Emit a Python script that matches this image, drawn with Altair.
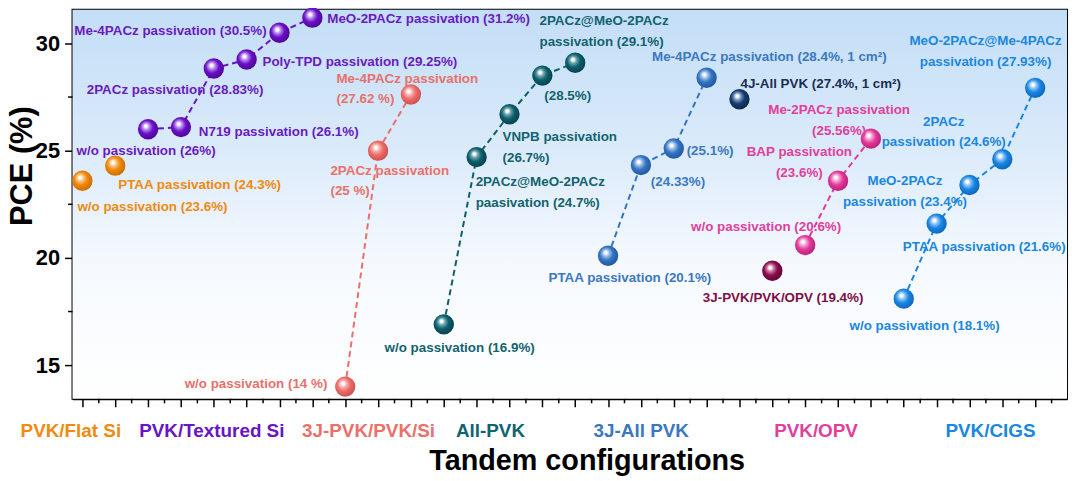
import altair as alt
import pandas as pd

# ---------------- data ----------------
configs = ["PVK/Flat Si", "PVK/Textured Si", "3J-PVK/PVK/Si", "All-PVK",
           "3J-All PVK", "PVK/OPV", "PVK/CIGS"]
config_pos = [0.65, 4.94, 9.71, 13.42, 18.01, 23.33, 28.64]
config_colors = ["#f08a12", "#6a14c4", "#ec706a", "#0f6470", "#3b78bf", "#e0409b", "#1a87e0"]

pos = list(range(1, 31))
pce = [23.6, 24.3,
       26.0, 26.1, 28.83, 29.25, 30.5, 31.2,
       14.0, 25.0, 27.62,
       16.9, 24.7, 26.7, 28.5, 29.1,
       20.1, 24.33, 25.1, 28.4,
       27.4,
       19.4,
       20.6, 23.6, 25.56,
       18.1, 21.6, 23.4, 24.6, 27.93]
series = (["flat"] * 2 + ["textured"] * 6 + ["si3j"] * 3 + ["allpvk"] * 5 +
          ["allpvk3j"] * 4 + ["allpvk4j"] + ["opv3j"] + ["opv"] * 3 + ["cigs"] * 5)
labels = [
    "w/o passivation (23.6%)", "PTAA passivation (24.3%)",
    "w/o passivation (26%)", "N719 passivation (26.1%)", "2PACz passivation (28.83%)",
    "Poly-TPD passivation (29.25%)", "Me-4PACz passivation (30.5%)", "MeO-2PACz passivation (31.2%)",
    "w/o passivation (14 %)", "2PACz passivation\n(25 %)", "Me-4PACz passivation\n(27.62 %)",
    "w/o passivation (16.9%)", "2PACz@MeO-2PACz\npaasivation (24.7%)", "VNPB passivation\n(26.7%)",
    "(28.5%)", "2PACz@MeO-2PACz\npassivation (29.1%)",
    "PTAA passivation (20.1%)", "(24.33%)", "(25.1%)", "Me-4PACz passivation (28.4%, 1 cm\u00b2)",
    "4J-All PVK (27.4%, 1 cm\u00b2)",
    "3J-PVK/PVK/OPV (19.4%)",
    "w/o passivation (20.6%)", "BAP passivation\n(23.6%)", "Me-2PACz passivation\n(25.56%)",
    "w/o passivation (18.1%)", "PTAA passivation (21.6%)", "MeO-2PACz\npassivation (23.4%)",
    "2PACz\npassivation (24.6%)", "MeO-2PACz@Me-4PACz\npassivation (27.93%)",
]

line_series = ["textured", "si3j", "allpvk", "allpvk3j", "opv", "cigs"]

x_major_ticks = list(range(1, 32))
x_minor_ticks = [v + 0.5 for v in range(1, 31)]
y_major_ticks = [15, 20, 25, 30]
y_minor_ticks = [17.5, 22.5, 27.5]

# ---------------- styles ----------------
sphere_cols = {  # base, light, dark, text
    "flat": ("#ee870b", "#f9c27a", "#c86a00", "#ee8a10"),
    "textured": ("#6a10c6", "#b78af0", "#4a0590", "#6a1bbf"),
    "si3j": ("#ec6d69", "#f7b3b0", "#c94c48", "#e8716b"),
    "allpvk": ("#0d5e6b", "#6aa3ad", "#063e48", "#13636f"),
    "allpvk3j": ("#3474c2", "#98bde8", "#1d5499", "#3b78bf"),
    "allpvk4j": ("#163c6e", "#7f9dc4", "#0a2648", "#1b2f52"),
    "opv3j": ("#8a0c4d", "#d07aa5", "#5e0331", "#7e0f45"),
    "opv": ("#e2389a", "#f5a2d0", "#b81c76", "#e0409b"),
    "cigs": ("#1985e4", "#8cc4f5", "#0a63b5", "#1a87e0"),
}

# label placement: (align, dx, dy of first-line centre)
label_place = [
    ("left", -5, 26), ("left", 3, 18),
    ("left", -72, 21), ("left", 18, 4), ("left", -128, 21),
    ("left", 16, 2), ("right", -13, -3), ("left", 15, 0),
    ("right", -18, -4), ("left", -48, 19), ("left", -75, -17),
    ("center", 16, 23), ("left", -1, 24), ("left", -7, 22),
    ("left", 2, 20), ("left", -36, -43),
    ("left", -60, 21), ("left", 10, 16), ("left", 13, 2), ("left", -55, -22),
    ("left", 1, -16),
    ("left", -70, 26),
    ("left", -115, -19), ("center", -39, -30), ("center", -32, -30),
    ("center", 21, 27), ("center", 48, 23), ("center", -65, -5),
    ("center", -59, -39), ("center", -50, -48),
]

FONT = "Liberation Sans"
W, H = 1002, 392

df = pd.DataFrame({"idx": list(range(30)), "pos": pos, "pce": pce,
                   "series": series, "label": labels})
cfg = pd.DataFrame({"config": configs, "cpos": config_pos, "ccol": config_colors})

xscale = alt.Scale(domain=[0.7, 30.97], nice=False, zero=False)
yscale = alt.Scale(domain=[13.43, 31.57], nice=False, zero=False)

x_axis = alt.Axis(
    values=x_major_ticks, labels=False, tickSize=8, tickWidth=1.5, grid=False,
    domainWidth=2, title="Tandem configurations", titleFontSize=29, titleFontWeight="bold",
    titleX=518, titleY=62, titleBaseline="middle", titleAlign="center")
y_axis = alt.Axis(
    values=y_major_ticks, tickSize=8, tickWidth=1.5, grid=False, labelFontSize=22,
    labelFontWeight="bold", labelPadding=5, domainWidth=2, title="PCE (%)",
    titleFontSize=31, titleFontWeight="bold", titleX=-34, titleY=157,
    titleAlign="center", titleBaseline="bottom", titleAngle=270)


def X(f="pos:Q"):
    return alt.X(f, scale=xscale, axis=x_axis)


def Y(f="pce:Q"):
    return alt.Y(f, scale=yscale, axis=y_axis)


def sphere(s):
    base, light, dark, _ = sphere_cols[s]
    return alt.Gradient(
        gradient="radial", x1=0.38, y1=0.33, r1=0.0, x2=0.45, y2=0.45, r2=0.6,
        stops=[alt.GradientStop(offset=0.0, color="#ffffff"),
               alt.GradientStop(offset=0.1, color="#ffffff"),
               alt.GradientStop(offset=0.28, color=light),
               alt.GradientStop(offset=0.55, color=base),
               alt.GradientStop(offset=1.0, color=dark)])


bg = alt.Gradient(gradient="linear", x1=0, y1=0, x2=0, y2=1,
                  stops=[alt.GradientStop(offset=0.0, color="#c3def7"),
                         alt.GradientStop(offset=0.35, color="#daeafa"),
                         alt.GradientStop(offset=0.65, color="#f5f9fe"),
                         alt.GradientStop(offset=1.0, color="#ffffff")])

base = alt.Chart(df)
layers = []

# background gradient of the plot area
layers.append(alt.Chart(pd.DataFrame({"k": [0]})).mark_rect(fill=bg, strokeWidth=0).encode(
    x=alt.value(0), x2=alt.value(W), y=alt.value(0), y2=alt.value(H)))

# axes carrier layer
layers.append(base.mark_point(opacity=0).encode(x=X(), y=Y()))

# minor ticks
layers.append(alt.Chart(pd.DataFrame({"t": x_minor_ticks})).mark_rule(
    color="black", strokeWidth=1.5).encode(x=X("t:Q"), y=alt.value(H), y2=alt.value(H + 4.5)))
layers.append(alt.Chart(pd.DataFrame({"t": y_minor_ticks})).mark_rule(
    color="black", strokeWidth=1.5).encode(y=Y("t:Q"), x=alt.value(0), x2=alt.value(-4.5)))

# dashed connection lines
for s in line_series:
    layers.append(base.transform_filter(alt.datum.series == s).mark_line(
        color=sphere_cols[s][0], strokeDash=[6, 4], strokeWidth=2).encode(x=X(), y=Y()))

# spheres
for s in sphere_cols:
    layers.append(base.transform_filter(alt.datum.series == s).mark_circle(
        size=420, fill=sphere(s), opacity=1, strokeWidth=0).encode(x=X(), y=Y()))

# annotations
for i, (al, dx, dy) in enumerate(label_place):
    col = sphere_cols[series[i]][3]
    layers.append(base.transform_filter(alt.datum.idx == i).transform_calculate(
        lines="split(datum.label, '\\n')").mark_text(
        align=al, baseline="top", dx=dx, dy=dy - 6, font=FONT, fontSize=13.5,
        fontWeight="bold", color=col, lineHeight=21).encode(
        x=X(), y=Y(), text="lines:N"))

# configuration labels under the axis
layers.append(alt.Chart(cfg).mark_text(
    font=FONT, fontSize=19, fontWeight="bold", baseline="middle", align="center").encode(
    x=X("cpos:Q"), y=alt.value(H + 32), text="config:N",
    color=alt.Color("ccol:N", scale=None)))

chart = alt.layer(*layers).properties(
    width=W, height=H,
    autosize=alt.AutoSizeParams(type="none"),
    padding={"left": 65, "top": 0, "right": 5, "bottom": 81},
    background="white",
).configure_view(stroke="black", strokeWidth=2).configure_axis(
    labelFont=FONT, titleFont=FONT, domainColor="black", tickColor="black",
    labelColor="black", titleColor="black")

chart.save("out.html", embed_options={"renderer": "svg", "actions": False})
